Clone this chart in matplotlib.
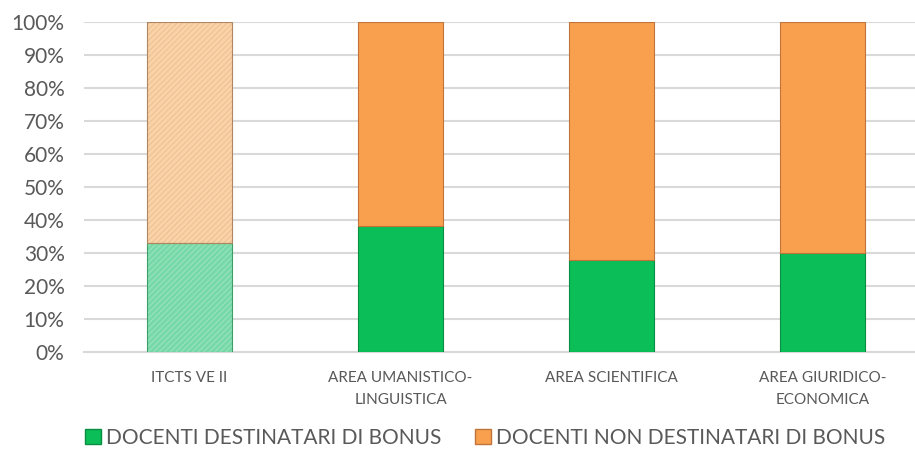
import matplotlib

matplotlib.use("Agg")
from matplotlib import pyplot as plt
from matplotlib.patches import Patch
from matplotlib.ticker import PercentFormatter
import numpy as np

plt.rcParams["font.family"] = ["Lato", "DejaVu Sans"]
plt.rcParams["hatch.linewidth"] = 0.5

categories = [
    "ITCTS VE II",
    "AREA UMANISTICO-\nLINGUISTICA",
    "AREA SCIENTIFICA",
    "AREA GIURIDICO-\nECONOMICA",
]
series_names = ["DOCENTI DESTINATARI DI BONUS", "DOCENTI NON DESTINATARI DI BONUS"]
bonus_share = [0.33, 0.382, 0.278, 0.30]
no_bonus_share = [1 - v for v in bonus_share]

GREEN = "#0BBE58"
ORANGE = "#F9A04E"
GREEN_LIGHT = "#78D9A8"
ORANGE_LIGHT = "#FAD2A8"
TEXT = "#595959"

figure = plt.figure(figsize=(9.15, 4.58), dpi=100)
axis = figure.add_axes([84 / 915, 1 - 352 / 458, 844 / 915, 330 / 458])

x = np.arange(len(categories))
width = 0.40


def draw_segment(pos, height, bottom, face, edge, pale, hatch_color):
    if pale:
        # hatch drawn in its own pass so its colour can differ from the outline
        axis.bar(pos, height, width, bottom=bottom, color=face, edgecolor=hatch_color,
                 hatch="//////", linewidth=0, zorder=3)
        axis.bar(pos, height, width, bottom=bottom, fill=False, edgecolor=edge,
                 linewidth=0.8, zorder=4)
    else:
        axis.bar(pos, height, width, bottom=bottom, color=face, edgecolor=edge,
                 linewidth=0.8, zorder=3)


for i in range(len(categories)):
    pale = i == 0
    draw_segment(x[i], bonus_share[i], 0,
                 GREEN_LIGHT if pale else GREEN, "#3E9E6A" if pale else "#0A8E42",
                 pale, "#A8E8C6")
    draw_segment(x[i], no_bonus_share[i], bonus_share[i],
                 ORANGE_LIGHT if pale else ORANGE, "#B08660" if pale else "#C0743A",
                 pale, "#E8B98A")

axis.set_xlim(-0.5, len(categories) - 0.5)
axis.set_ylim(0, 1.0)
axis.set_yticks(np.arange(0, 1.01, 0.1))
axis.yaxis.set_major_formatter(PercentFormatter(1.0, decimals=0))
axis.set_xticks(x)
axis.set_xticklabels(categories, fontsize=11, color=TEXT, linespacing=1.7)
axis.tick_params(axis="y", labelsize=15, labelcolor=TEXT, length=0, pad=14)
axis.tick_params(axis="x", length=0, pad=14)
axis.grid(axis="y", color="#D9D9D9", linewidth=1.5, zorder=0)
for side in ["top", "right", "left"]:
    axis.spines[side].set_visible(False)
axis.spines["bottom"].set_color("#D9D9D9")
axis.spines["bottom"].set_linewidth(1.5)

legend_items = [
    (Patch(facecolor=GREEN, edgecolor="#0A8E42", label=series_names[0]), 85),
    (Patch(facecolor=ORANGE, edgecolor="#C0743A", label=series_names[1]), 475),
]
for handle, left_px in legend_items:
    figure.legend(
        handles=[handle], loc="center left", bbox_to_anchor=(left_px / 915, 1 - 438 / 458),
        frameon=False, fontsize=15, labelcolor=TEXT, borderpad=0, borderaxespad=0,
        handlelength=0.75, handleheight=0.75, handletextpad=0.25,
    )

figure.savefig("out.png", dpi=100)
